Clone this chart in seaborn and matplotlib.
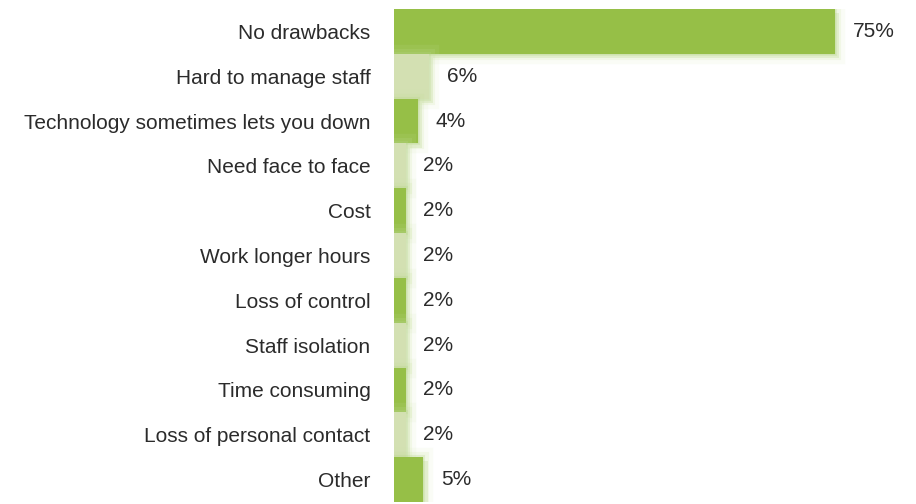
import matplotlib
matplotlib.use("Agg")
import matplotlib.pyplot as plt
import matplotlib.patheffects as pe
import seaborn as sns
import pandas as pd

categories = [
    "No drawbacks",
    "Hard to manage staff",
    "Technology sometimes lets you down",
    "Need face to face",
    "Cost",
    "Work longer hours",
    "Loss of control",
    "Staff isolation",
    "Time consuming",
    "Loss of personal contact",
    "Other",
]
values = [75, 6, 4, 2, 2, 2, 2, 2, 2, 2, 5]
value_labels = ["75%", "6%", "4%", "2%", "2%", "2%", "2%", "2%", "2%", "2%", "5%"]

dark_green = "#96bf47"
light_green = "#d3e0b2"
bar_colors = [dark_green if i % 2 == 0 else light_green for i in range(len(categories))]

df = pd.DataFrame({"category": categories, "value": values})

sns.set_theme(style="white")
plt.rcParams["font.family"] = ["Liberation Sans", "DejaVu Sans"]

fig = plt.figure(figsize=(9.16, 5.04), dpi=100)
ax = fig.add_axes([394 / 916, 1 - 502 / 504, (916 - 394) / 916, 493 / 504])

sns.barplot(data=df, x="value", y="category", hue="category",
            palette=bar_colors, legend=False, width=1.0, ax=ax,
            saturation=1.0, linewidth=0)

# soft green glow around each bar, offset slightly down and right
for patch in ax.patches:
    patch.set_path_effects([
        pe.SimplePatchShadow(offset=(3, -3), shadow_rgbFace="#d8eac0", alpha=0.5),
        pe.Stroke(linewidth=14, foreground="#cfe4aa", alpha=0.10),
        pe.Stroke(linewidth=8, foreground="#c4dd98", alpha=0.16),
        pe.Stroke(linewidth=3, foreground="#b4d386", alpha=0.25),
        pe.Normal(),
    ])
    patch.set_zorder(2)

for i, (v, lab) in enumerate(zip(values, value_labels)):
    ax.text(v + 3.0, i, lab, va="center", ha="left", fontsize=15, color="#2b2b2b")

ax.set_xlim(0, (916 - 394) / 5.88)
ax.set_ylim(len(categories) - 0.5, -0.5)
ax.set_xlabel("")
ax.set_ylabel("")
ax.set_xticks([])
ax.tick_params(axis="y", length=0, pad=17, labelsize=15, labelcolor="#2b2b2b")
for s in ax.spines.values():
    s.set_visible(False)

fig.savefig("out.png", dpi=100, facecolor="white")
